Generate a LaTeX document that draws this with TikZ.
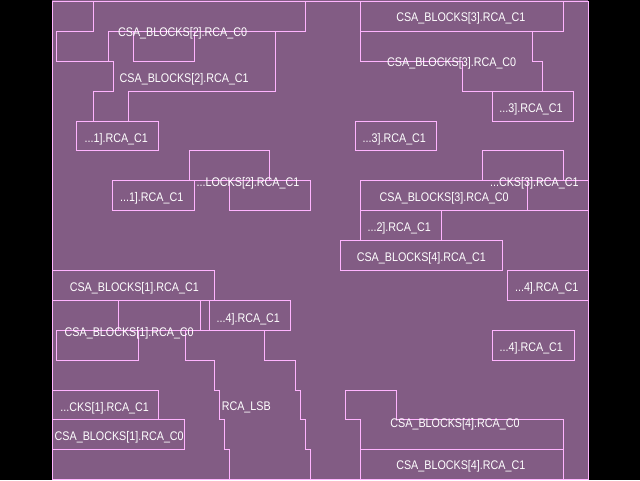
\documentclass[tikz,border=0pt]{standalone}
\usepackage{fontspec}
\setmainfont[FakeStretch=0.86]{Liberation Sans}
\definecolor{fieldpurple}{RGB}{130,92,132}
\definecolor{edgepink}{RGB}{255,180,255}
\begin{document}
\begin{tikzpicture}[x=1pt,y=-1pt,
  region/.style={draw=edgepink,line width=1pt},
  tag/.style={text=white,anchor=base,inner sep=0pt,font=\fontsize{12.5}{13}\selectfont}]
\useasboundingbox (0,0) rectangle (640,480);
\fill[black] (0,0) rectangle (640,480);
\fill[fieldpurple] (52,0) rectangle (588,480);
% device frame
\draw[region] (52,1) rectangle (588,479);

% ---- block 2 (upper left) ----
\draw[region] (93.3,1) -- (93.3,31) -- (56.7,31) -- (56.7,61) -- (113.3,61) -- (113.3,91) -- (93.3,91) -- (93.3,121);
\draw[region] (108.3,61) -- (108.3,31) -- (305,31) -- (305,1);
\draw[region] (133,31) rectangle (194.3,61);
\draw[region] (275,31) -- (275,91) -- (128,91) -- (128,121);
\draw[region] (76.7,121) rectangle (158.3,150);
\draw[region] (189,150) rectangle (269.5,180);
\draw[region] (112.7,180) rectangle (194.3,210.5);
\draw[region] (229,180) rectangle (310,210.5);
\draw[region] (194.3,180) -- (229,180);

% ---- block 1 (lower left) ----
\draw[region] (52,270) -- (214,270) -- (214,300);
\draw[region] (52,300) -- (290,300);
\draw[region] (118.7,300) -- (118.7,330);
\draw[region] (200,300) -- (200,330);
\draw[region] (209,300) rectangle (290,330);
\draw[region] (56.7,330) -- (290,330);
\draw[region] (56.7,330) -- (56.7,360) -- (138.7,360) -- (138.7,330);
\draw[region] (185,330) -- (185,360) -- (214,360) -- (214,390) -- (219.3,390) -- (219.3,419.3)
  -- (224.3,419.3) -- (224.3,449.3) -- (229.3,449.3) -- (229.3,479);
\draw[region] (264.5,330) -- (264.5,360) -- (295,360) -- (295,390) -- (300,390) -- (300,419.3)
  -- (305,419.3) -- (305,449.3) -- (310,449.3) -- (310,479);
\draw[region] (52,390) -- (158.3,390) -- (158.3,419.3);
\draw[region] (52,419.3) -- (184.5,419.3) -- (184.5,449.3) -- (52,449.3);

% ---- block 3 (upper right) ----
\draw[region] (360.5,1) -- (360.5,61) -- (462.7,61) -- (462.7,91) -- (573,91);
\draw[region] (360.5,31) -- (563,31) -- (563,1);
\draw[region] (532.7,31) -- (532.7,61) -- (542.7,61) -- (542.7,91);
\draw[region] (492.5,91) rectangle (573,121);
\draw[region] (355,121) rectangle (436.7,150);
\draw[region] (482.5,150) rectangle (563.3,180);
\draw[region] (360.5,180) -- (588,180);
\draw[region] (360.5,180) -- (360.5,240);
\draw[region] (527.7,180) -- (527.7,210);
\draw[region] (360.5,210) -- (588,210);
\draw[region] (441,210) -- (441,240);

% ---- block 4 (lower right) ----
\draw[region] (340,240) rectangle (502.7,270);
\draw[region] (507.3,270) rectangle (588,300);
\draw[region] (492.3,330) rectangle (574,360);
\draw[region] (345,390) -- (396.7,390) -- (396.7,419.3) -- (563.3,419.3) -- (563.3,479);
\draw[region] (345,390) -- (345,419.3) -- (360.5,419.3) -- (360.5,479);
\draw[region] (360.5,449.3) -- (563.3,449.3);

% ---- cell labels ----
\node[tag] (l2c0)  at (182.6,36.5)  {CSA\_BLOCKS[2].RCA\_C0};
\node[tag] (l2c1)  at (184.2,82.2)  {CSA\_BLOCKS[2].RCA\_C1};
\node[tag] (l1a)   at (116.3,142.5) {...1].RCA\_C1};
\node[tag] (l1b)   at (151.7,201.2) {...1].RCA\_C1};
\node[tag] (l2d)   at (248,186.2)   {...LOCKS[2].RCA\_C1};
\node[tag] (l3c1)  at (460.8,21.5)  {CSA\_BLOCKS[3].RCA\_C1};
\node[tag] (l3c0)  at (451.7,66.8)  {CSA\_BLOCKS[3].RCA\_C0};
\node[tag] (l3a)   at (531,112.8)   {...3].RCA\_C1};
\node[tag] (l3b)   at (394.3,142.2) {...3].RCA\_C1};
\node[tag] (l3d)   at (534.3,186.2) {...CKS[3].RCA\_C1};
\node[tag] (l3e)   at (444.2,201.5) {CSA\_BLOCKS[3].RCA\_C0};
\node[tag] (l2e)   at (399.2,231.2) {...2].RCA\_C1};
\node[tag] (l4c1)  at (421.3,261.2) {CSA\_BLOCKS[4].RCA\_C1};
\node[tag] (l4a)   at (546.7,291.5) {...4].RCA\_C1};
\node[tag] (l4b)   at (531.3,351.2) {...4].RCA\_C1};
\node[tag] (l4c0)  at (455,427.3)   {CSA\_BLOCKS[4].RCA\_C0};
\node[tag] (l4d)   at (460.8,469.8) {CSA\_BLOCKS[4].RCA\_C1};
\node[tag] (l1c1)  at (134.3,291.2) {CSA\_BLOCKS[1].RCA\_C1};
\node[tag] (l4e)   at (248.3,322.3) {...4].RCA\_C1};
\node[tag] (l1c0)  at (129.2,336.5) {CSA\_BLOCKS[1].RCA\_C0};
\node[tag] (l1d)   at (104.7,411.2) {...CKS[1].RCA\_C1};
\node[tag] (l1e)   at (119.2,440.2) {CSA\_BLOCKS[1].RCA\_C0};
\node[tag] (lsb)   at (246.3,410.5) {RCA\_LSB};
\end{tikzpicture}
\end{document}
